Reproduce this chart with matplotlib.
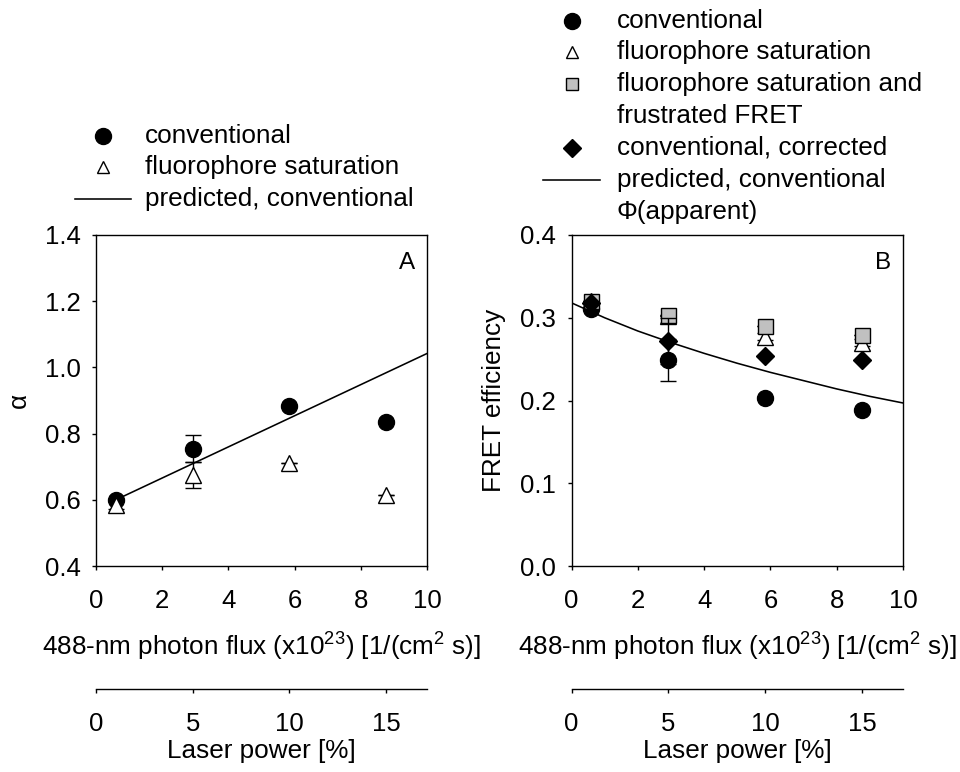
import matplotlib
matplotlib.use("Agg")
import matplotlib.pyplot as plt
from matplotlib.ticker import FormatStrFormatter

plt.rcParams['font.family'] = ['Liberation Sans', 'DejaVu Sans']
plt.rcParams['mathtext.fontset'] = 'custom'
plt.rcParams['mathtext.rm'] = 'Liberation Sans'
plt.rcParams['mathtext.it'] = 'Liberation Sans'

# ---------------- data ----------------
flux = [0.60, 2.92, 5.84, 8.75]          # photon flux (x10^23)
laser_max = 17.12                          # laser % corresponding to flux 10

# Panel A (alpha)
a_conv = [0.600, 0.754, 0.882, 0.836]
a_conv_err = [0.0, 0.041, 0.0, 0.0]
a_sat = [0.585, 0.675, 0.711, 0.615]
a_sat_err = [0.012, 0.040, 0.0, 0.0]
a_pred_x = [0.60, 10.0]
a_pred_y = [0.600, 1.042]

# Panel B (FRET efficiency)
b_conv = [0.311, 0.249, 0.203, 0.189]
b_conv_err = [0.0, 0.025, 0.0, 0.0]
b_sat = [0.320, 0.302, 0.277, 0.270]
b_sat_err = [0.0, 0.0, 0.004, 0.004]
b_frus = [0.320, 0.303, 0.290, 0.279]
b_frus_err = [0.0, 0.0, 0.0, 0.0]
b_corr = [0.318, 0.272, 0.254, 0.249]
b_corr_err = [0.0, 0.028, 0.0, 0.0]
b_pred_x = [0, 1, 2, 3, 4, 5, 6, 7, 8, 9, 10]
b_pred_y = [0.318, 0.300, 0.284, 0.270, 0.257, 0.245, 0.234, 0.224, 0.214, 0.205, 0.197]

flux_ticks = [0, 2, 4, 6, 8, 10]
laser_ticks = [0, 5, 10, 15]

W, H = 960, 772
fig = plt.figure(figsize=(W / 100, H / 100), dpi=100)

FS = 18.8
TFS = 18.5
lw = 1.15
slw = 1.0

def px_rect(l, r, t, b):
    return [l / W, 1 - b / H, (r - l) / W, (b - t) / H]

axA = fig.add_axes(px_rect(96, 427, 235, 566))
axB = fig.add_axes(px_rect(571.5, 903, 235, 566))

ms_c, ms_t, ms_s, ms_d = 11.5, 11.5, 10.8, 8.7
cap = 5.5
ebk = dict(capsize=cap, elinewidth=1.0, capthick=1.0)

def style_main(ax):
    for s in ax.spines.values():
        s.set_linewidth(slw)
    ax.tick_params(direction='out', length=3, width=slw, labelsize=TFS,
                   top=False, right=False)
    ax.tick_params(axis='x', pad=13.5)
    ax.tick_params(axis='y', pad=8)
    ax.set_xlim(0, 10)
    ax.set_xticks(flux_ticks)
    ax.set_xlabel('488-nm photon flux (x10$^{23}$) [1/(cm$^{2}$ s)]', fontsize=FS, labelpad=13)

# ---- Panel A ----
axA.plot(a_pred_x, a_pred_y, color='black', lw=lw, zorder=2)
axA.errorbar(flux, a_conv, yerr=a_conv_err, fmt='o', color='black', ms=ms_c,
             zorder=3, **ebk)
axA.errorbar(flux, a_sat, yerr=a_sat_err, fmt='^', mfc='white', mec='black',
             ecolor='black', ms=ms_t, mew=1.0, zorder=4, **ebk)
axA.set_ylim(0.4, 1.4)
axA.set_yticks([0.4, 0.6, 0.8, 1.0, 1.2, 1.4])
axA.yaxis.set_major_formatter(FormatStrFormatter('%.1f'))
axA.set_ylabel('α', fontsize=FS, labelpad=10)
style_main(axA)
axA.text(0.94, 0.915, 'A', transform=axA.transAxes, fontsize=17.5, ha='center', va='center')

# ---- Panel B ----
axB.errorbar(flux, b_conv, yerr=b_conv_err, fmt='o', color='black', ms=ms_c,
             zorder=3, **ebk)
axB.errorbar(flux, b_sat, yerr=b_sat_err, fmt='^', mfc='white', mec='black',
             ecolor='black', ms=ms_t, mew=1.0, zorder=4, **ebk)
axB.errorbar(flux, b_frus, yerr=b_frus_err, fmt='s', mfc='#c0c0c0', mec='black',
             ecolor='black', ms=ms_s, mew=1.0, zorder=5, **ebk)
axB.errorbar(flux, b_corr, yerr=b_corr_err, fmt='D', color='black', ms=ms_d,
             zorder=6, **ebk)
axB.plot(b_pred_x, b_pred_y, color='black', lw=lw, zorder=7)
axB.set_ylim(0.0, 0.4)
axB.set_yticks([0.0, 0.1, 0.2, 0.3, 0.4])
axB.yaxis.set_major_formatter(FormatStrFormatter('%.1f'))
axB.set_ylabel('FRET efficiency', fontsize=FS, labelpad=10)
style_main(axB)
axB.text(0.94, 0.915, 'B', transform=axB.transAxes, fontsize=17.5, ha='center', va='center')

# ---- Laser power secondary axes ----
for (l, r) in [(96, 427), (571.5, 903)]:
    axL = fig.add_axes([l / W, 1 - 689 / H, (r - l) / W, 0.0001])
    axL.set_facecolor('none')
    for k in ['top', 'left', 'right']:
        axL.spines[k].set_visible(False)
    axL.spines['bottom'].set_linewidth(slw)
    axL.set_yticks([])
    axL.set_xlim(0, laser_max)
    axL.set_xticks(laser_ticks)
    axL.tick_params(axis='x', direction='out', length=3, width=slw,
                    labelsize=TFS, pad=13.5)
    axL.set_xlabel('Laser power [%]', fontsize=FS, labelpad=2)

# ---- Legends (figure pixel coordinates) ----
ov = fig.add_axes([0, 0, 1, 1])
ov.set_xlim(0, W)
ov.set_ylim(H, 0)
ov.axis('off')

def leg_text(x, y, s):
    ov.text(x, y, s, fontsize=FS, ha='left', va='center')

# Legend A
ov.plot([103], [136], 'o', color='black', ms=ms_c)
leg_text(145, 136, 'conventional')
ov.plot([103], [167], '^', mfc='white', mec='black', ms=9, mew=1.0)
leg_text(145, 167, 'fluorophore saturation')
ov.plot([75, 131], [199, 199], color='black', lw=lw)
leg_text(145, 199, 'predicted, conventional')

# Legend B
ov.plot([572], [21], 'o', color='black', ms=ms_c)
leg_text(617, 21, 'conventional')
ov.plot([572], [52], '^', mfc='white', mec='black', ms=9, mew=1.0)
leg_text(617, 52, 'fluorophore saturation')
ov.plot([572], [84], 's', mfc='#c0c0c0', mec='black', ms=9, mew=1.0)
leg_text(617, 84, 'fluorophore saturation and')
leg_text(617, 116, 'frustrated FRET')
ov.plot([572], [148], 'D', color='black', ms=ms_d)
leg_text(617, 148, 'conventional, corrected')
ov.plot([543, 600], [180, 180], color='black', lw=lw)
leg_text(617, 180, 'predicted, conventional')
leg_text(617, 212, 'Φ(apparent)')

fig.savefig('out.png', dpi=100)
